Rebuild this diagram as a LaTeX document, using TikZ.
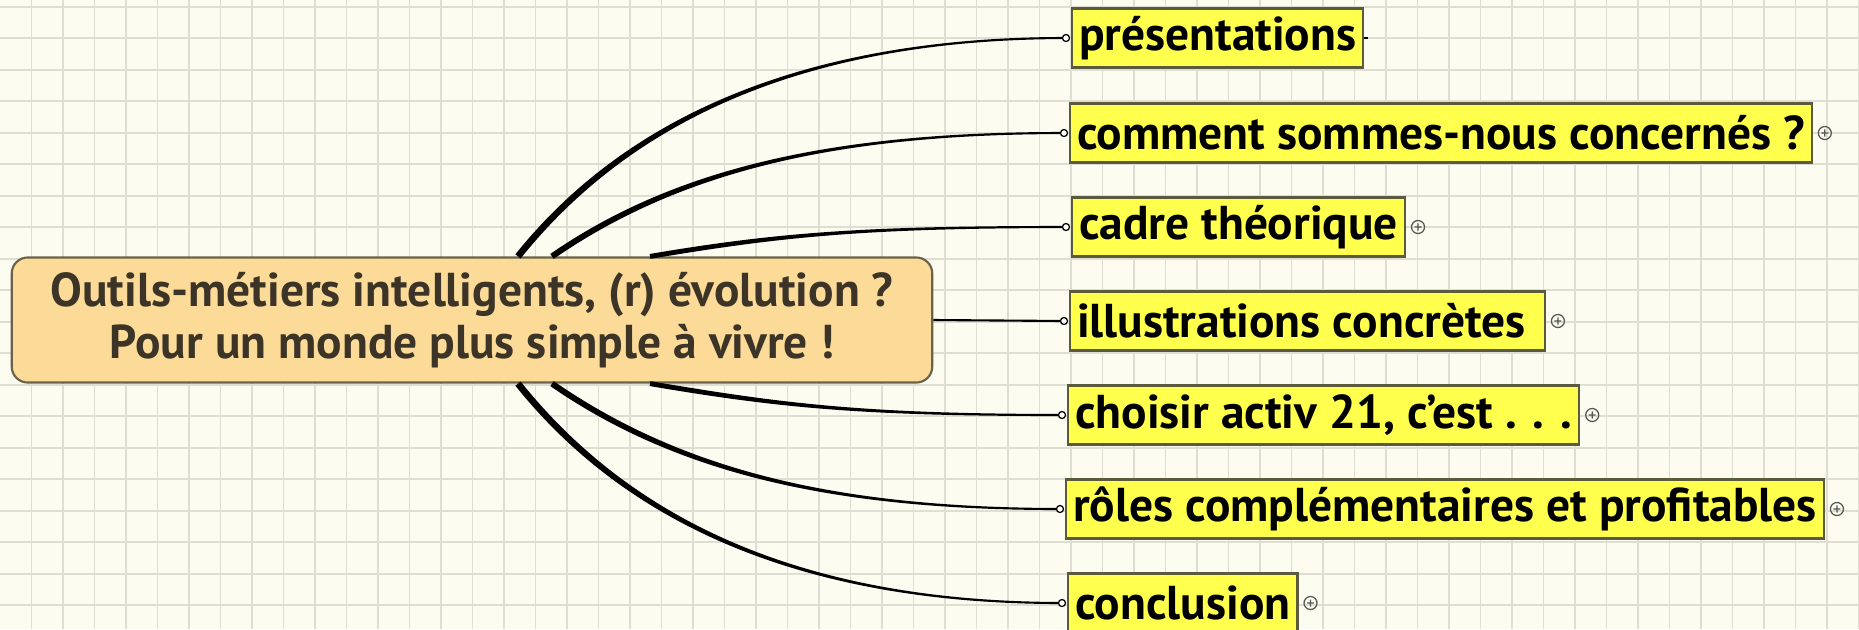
\documentclass[tikz,border=0pt]{standalone}
\usepackage{fontspec}
\setmainfont{PT Sans}
\usetikzlibrary{positioning, calc}
\definecolor{paper}{HTML}{FCFDF0}
\definecolor{gridgray}{HTML}{DEDFD2}
\definecolor{rootfill}{HTML}{FCDA98}
\definecolor{rootdraw}{HTML}{6A6248}
\definecolor{rootink}{HTML}{3C3426}
\definecolor{topicfill}{HTML}{FFFF4D}
\definecolor{topicdraw}{HTML}{5C5A3C}
\definecolor{knobgray}{HTML}{555555}
% tapered branch: from, to, first control offset, second control offset, start half width
\newcommand{\branch}[5]{%
  \coordinate (ba) at (#1); \coordinate (bb) at ($(#1)+(#3)$);
  \coordinate (bc) at ($(#2)+(#4)$); \coordinate (bd) at (#2);
  \fill ($(ba)!#5!90:(bb)$) .. controls ($(bb)!#5!-90:(ba)$) and ($(bc)!0.3pt!90:(bd)$) .. ($(bd)!0.3pt!-90:(bc)$)
    -- ($(bd)!0.3pt!90:(bc)$) .. controls ($(bc)!0.3pt!-90:(bd)$) and ($(bb)!#5!90:(ba)$) .. ($(ba)!#5!-90:(bb)$) -- cycle;}
\newcommand{\expander}[1]{\draw[plusknob] (#1) circle (1.85pt) ++(-1pt,0) -- ++(2pt,0) ++(-1pt,-1pt) -- ++(0,2pt);}

\begin{document}
\begin{tikzpicture}[x=0.01cm, y=-0.01cm,
  root/.style={rectangle, rounded corners=0.16cm, fill=rootfill, draw=rootdraw, line width=0.6pt,
    minimum width=9.2cm, minimum height=1.25cm, align=center, text=rootink,
    font=\fontsize{13.5}{14.6}\selectfont\bfseries},
  topic/.style={rectangle, fill=topicfill, draw=topicdraw, line width=0.6pt, anchor=west,
    minimum height=0.59cm, inner xsep=2pt, inner ysep=0pt,
    font=\fontsize{13.5}{15}\selectfont\bfseries},
  knob/.style={draw=black, fill=white, line width=0.35pt},
  plusknob/.style={draw=knobgray, line width=0.35pt},
  gridline/.style={gridgray, line width=0.5pt}
]
  \useasboundingbox (0,0) rectangle (1859,629);
  \fill[paper] (0,0) rectangle (1859,629);
  % grid
  \foreach \k in {1,...,59} \draw[gridline] (31.5*\k,0) -- (31.5*\k,629);
  \foreach \k in {0,...,19} \draw[gridline] (0,6.8+31.5*\k) -- (1859,6.8+31.5*\k);

  % central topic
  \node[root] (root) at (472,320) {Outils-métiers intelligents, (r) évolution ?\\Pour un monde plus simple à vivre !};

  % main topics
  \node[topic] (pres) at (1071,38) {présentations};
  \node[topic] (concern) at (1069,133) {comment sommes-nous concernés ?};
  \node[topic] (cadre) at (1071,227) {cadre théorique};
  \node[topic] (illus) at (1069,321) {illustrations concrètes\ \ };
  \node[topic] (activ) at (1067,415) {choisir activ 21, c{\char"27}est . . .};
  \node[topic] (roles) at (1065,509) {rôles complémentaires et profitables};
  \node[topic] (concl) at (1067,603) {conclusion};

  % branch ends
  \foreach \t in {pres, concern, cadre, illus, activ, roles, concl}
    \coordinate (\t-in) at ($(\t.west)+(-5,0)$);

  % branches
  \branch{$(root.north)+(46,0)$}{pres-in}{120,-150}{-240,0}{0.95pt}
  \branch{$(root.north)+(80,0)$}{concern-in}{130,-90}{-220,0}{0.85pt}
  \branch{$(root.north)+(178,0)$}{cadre-in}{130,-22}{-200,0}{0.7pt}
  \draw[line width=0.6pt] (root.east) -- (illus-in);
  \branch{$(root.south)+(178,0)$}{activ-in}{130,22}{-200,0}{0.7pt}
  \branch{$(root.south)+(80,0)$}{roles-in}{130,90}{-220,0}{0.85pt}
  \branch{$(root.south)+(46,0)$}{concl-in}{120,150}{-240,0}{0.95pt}

  \foreach \t in {pres, concern, cadre, illus, activ, roles, concl}
    \draw[knob] (\t-in) circle (1pt);

  % expand marks
  \draw[line width=0.3pt] (pres.east) -- ++(4,0);
  \expander{$(concern.east)+(12,0)$}
  \expander{$(cadre.east)+(12,0)$}
  \expander{$(illus.east)+(12,0)$}
  \expander{$(activ.east)+(12,0)$}
  \expander{$(roles.east)+(12,0)$}
  \expander{$(concl.east)+(12,0)$}
\end{tikzpicture}
\end{document}
